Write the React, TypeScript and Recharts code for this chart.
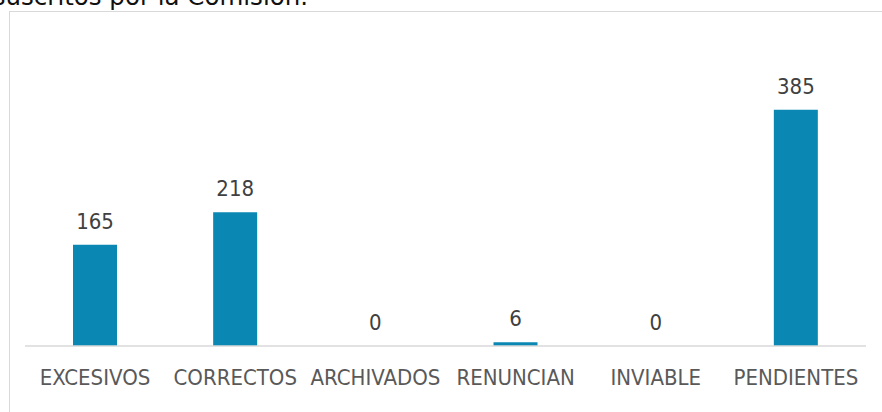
import { ComposedChart, Bar, Line, XAxis, YAxis, LabelList } from 'recharts';

const categories = ['EXCESIVOS', 'CORRECTOS', 'ARCHIVADOS', 'RENUNCIAN', 'INVIABLE', 'PENDIENTES'];
const values = [165, 218, 0, 6, 0, 385];

const data = categories.map((name, i) => ({ name, value: values[i] }));

const FONT = '"DejaVu Sans Condensed", "DejaVu Sans", sans-serif';

export default function App() {
  return (
    <div style={{
      position: 'fixed', left: 0, top: 0, width: 882, height: 412,
      overflow: 'hidden', background: '#fff',
    }}>
      {/* clipped caption from the page above */}
      <div style={{
        position: 'absolute', right: 574, top: -15, whiteSpace: 'nowrap',
        fontFamily: '"DejaVu Sans", sans-serif', fontSize: 24.5, lineHeight: '24.5px', color: '#111',
      }}>
        suscritos por la Comisión.
      </div>

      {/* chart frame */}
      <div style={{
        position: 'absolute', left: 9, top: 11, width: 900, height: 420,
        border: '1px solid #d9d9d9', boxSizing: 'border-box',
      }} />

      <div style={{ position: 'absolute', left: 0, top: 0 }}>
        <ComposedChart
          width={882}
          height={412}
          data={data}
          margin={{ top: 70, right: 16, left: 25, bottom: 26 }}
          barSize={44}
        >
          <XAxis
            dataKey="name"
            interval={0}
            tickLine={false}
            axisLine={{ stroke: '#d9d9d9', strokeWidth: 1.5 }}
            tick={{ fill: '#595959', fontSize: 22, fontFamily: FONT }}
            tickMargin={17}
            height={40}
          />
          <YAxis hide domain={[0, 450]} />
          <Bar dataKey="value" fill="#0B87B3" isAnimationActive={false} />
          {/* invisible series carrying the value labels, so zeros get one too */}
          <Line dataKey="value" stroke="none" dot={false} activeDot={false} isAnimationActive={false}>
            <LabelList
              dataKey="value"
              position="top"
              offset={16}
              fill="#404040"
              style={{ fontSize: 22, fontFamily: FONT }}
            />
          </Line>
        </ComposedChart>
      </div>
    </div>
  );
}
